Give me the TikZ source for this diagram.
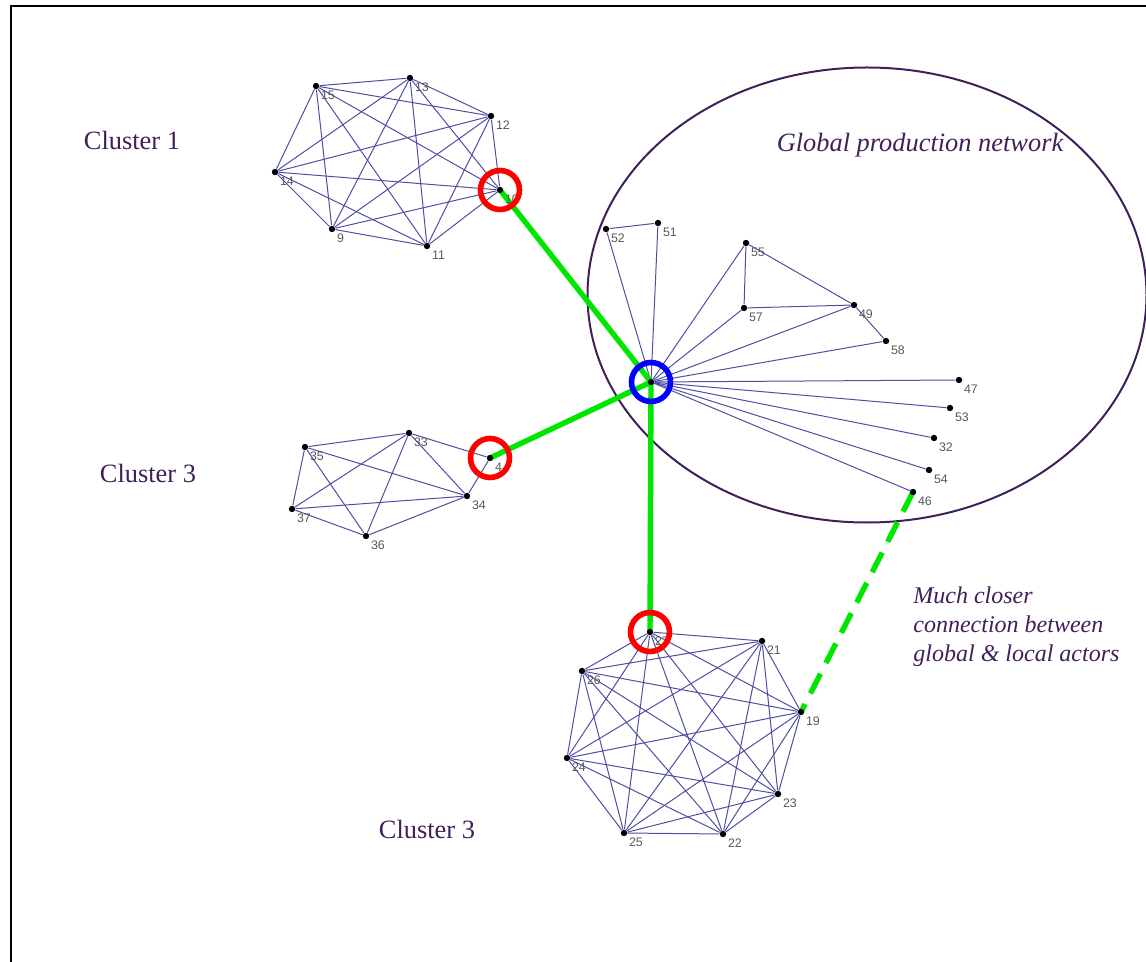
\documentclass[tikz,border=0pt]{standalone}
\usepackage{fontspec}
\setmainfont{Liberation Serif}
\setsansfont{Liberation Sans}
\usetikzlibrary{positioning, backgrounds}
\definecolor{plum}{HTML}{3F2058}
\definecolor{linkblue}{HTML}{4E4EA2}
\definecolor{tiegreen}{HTML}{00E600}
\tikzset{
    dot/.style={circle, fill=black, inner sep=0pt, minimum size=3.2pt},
    actor/.style={dot, label={[num]south east:#1}},
    num/.style={font=\sffamily\fontsize{6.2}{6.2}\selectfont, text=black!65, inner sep=0.5pt, label distance=0.8pt},
    tie/.style={linkblue, line width=0.5pt},
    bridge/.style={tiegreen, line width=2.7pt},
    ring/.style={circle, draw=red, line width=2.8pt, minimum size=19.5pt, inner sep=0pt},
    hubring/.style={ring, draw=blue},
    caption/.style={text=plum, font=\fontsize{13.2}{14.5}\selectfont},
    italic/.style={text=plum, font=\fontsize{13.2}{14.5}\selectfont\itshape},
    remark/.style={text=plum, font=\fontsize{12}{14.5}\selectfont\itshape}
}

\begin{document}
\begin{tikzpicture}[x=0.5pt, y=-0.5pt]
    \useasboundingbox (0,0) rectangle (1146,962);
    \draw [line width=1pt] (11,962) -- (11,6) -- (1146,6);

    % cluster 1
    \node (n15) [actor=15] at (316,86) {};
    \node (n13) [actor=13] at (410,78) {};
    \node (n12) [actor=12] at (491,116) {};
    \node (n10) [actor=10] at (500,190) {};
    \node (n11) [actor=11] at (427,246) {};
    \node (n9) [actor=9] at (332,229) {};
    \node (n14) [actor=14] at (275,172) {};

    % cluster 3 (left)
    \node (n35) [actor=35] at (305,447) {};
    \node (n33) [actor=33] at (409,433) {};
    \node (n4) [actor=4] at (490,458) {};
    \node (n34) [actor=34] at (467,496) {};
    \node (n37) [actor=37] at (292,509) {};
    \node (n36) [actor=36] at (366,536) {};

    % cluster 3 (bottom)
    \node (n27) [actor=27] at (650,632) {};
    \node (n21) [actor=21] at (762,641) {};
    \node (n26) [actor=26] at (582,671) {};
    \node (n19) [actor=19] at (801,712) {};
    \node (n24) [actor=24] at (567,758) {};
    \node (n23) [actor=23] at (778,794) {};
    \node (n25) [actor=25] at (624,833) {};
    \node (n22) [actor=22] at (723,834) {};

    % global production network
    \node (hub) [dot] at (651,382) {};
    \node (n52) [actor=52] at (606,229) {};
    \node (n51) [actor=51] at (658,223) {};
    \node (n55) [actor=55] at (746,243) {};
    \node (n57) [actor=57] at (744,308) {};
    \node (n49) [actor=49] at (854,305) {};
    \node (n58) [actor=58] at (886,341) {};
    \node (n47) [actor=47] at (959,380) {};
    \node (n53) [actor=53] at (950,408) {};
    \node (n32) [actor=32] at (934,438) {};
    \node (n54) [actor=54] at (929,470) {};
    \node (n46) [actor=46] at (913,492) {};

    \begin{scope}[on background layer]
        \draw [plum, line width=1pt] (867,295) ellipse [x radius=139.75pt, y radius=113.75pt];
        \foreach \a/\b in {n15/n13, n15/n12, n15/n10, n15/n11, n15/n9, n15/n14,
                           n13/n12, n13/n10, n13/n11, n13/n9, n13/n14,
                           n12/n10, n12/n11, n12/n9, n12/n14,
                           n10/n11, n10/n9, n10/n14, n11/n9, n11/n14, n9/n14}
            \draw [tie] (\a) -- (\b);
        \foreach \a/\b in {n35/n33, n35/n34, n35/n37, n35/n36, n33/n34, n33/n37,
                           n33/n36, n34/n37, n34/n36, n37/n36, n33/n4, n34/n4}
            \draw [tie] (\a) -- (\b);
        \foreach \a/\b in {n27/n21, n27/n26, n27/n19, n27/n24, n27/n23, n27/n25, n27/n22,
                           n21/n26, n21/n19, n21/n24, n21/n23, n21/n25, n21/n22,
                           n26/n19, n26/n24, n26/n23, n26/n25, n26/n22,
                           n19/n24, n19/n23, n19/n25, n19/n22,
                           n24/n23, n24/n25, n24/n22, n23/n25, n23/n22, n25/n22}
            \draw [tie] (\a) -- (\b);
        \foreach \b in {n52, n51, n55, n57, n49, n58, n47, n53, n32, n54, n46}
            \draw [tie] (hub) -- (\b);
        \draw [tie] (n52) -- (n51);
        \draw [tie] (n55) -- (n57);
        \draw [tie] (n55) -- (n49);
        \draw [tie] (n57) -- (n49);
        \draw [tie] (n49) -- (n58);

        \draw [bridge] (hub.center) -- (n10.center);
        \draw [bridge] (hub.center) -- (n4.center);
        \draw [bridge] (hub.center) -- (n27.center);
        \draw [bridge, dash pattern=on 11pt off 6pt] (n46.center) -- (n19.center);
    \end{scope}

    \node (r10) [ring] at (n10) {};
    \node (r4) [ring] at (n4) {};
    \node (r27) [ring] at (n27) {};
    \node (rhub) [hubring] at (hub) {};

    \node (cl1) [caption] at (132,140) {Cluster 1};
    \node (cl3) [caption] at (148,473) {Cluster 3};
    \node (cl3b) [caption] at (427,829) {Cluster 3};
    \node (gpn) [italic] at (920,145) {Global production network};
    \node (note) [remark, anchor=west, align=left, inner sep=0pt] at (913,627) {Much closer\\connection between\\global \& local actors};
\end{tikzpicture}
\end{document}
